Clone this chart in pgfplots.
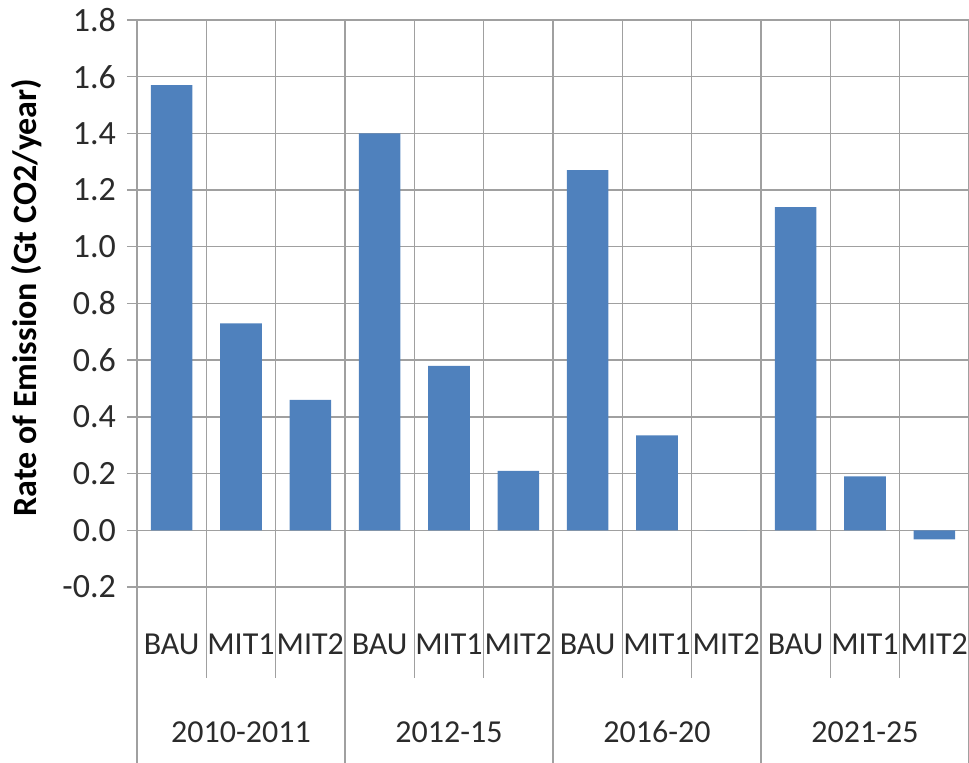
\documentclass[border=0pt]{standalone}
\usepackage{pgfplots}
\pgfplotsset{compat=1.18}
\usepackage{fontspec}
\setmainfont{Carlito}
\definecolor{barblue}{HTML}{4F81BD}
\definecolor{gridgray}{HTML}{A0A0A0}
\definecolor{txt}{HTML}{2B2B2B}
\begin{document}
\begin{tikzpicture}
\begin{axis}[
  name=ax,
  scale only axis, width=416pt, height=283.5pt,
  xmin=-0.5, xmax=11.5, ymin=-0.2, ymax=1.8,
  clip=false,
  font=\fontsize{16}{19}\selectfont,
  every tick label/.append style={txt},
  ytick={-0.2,0,0.2,0.4,0.6,0.8,1.0,1.2,1.4,1.6,1.8},
  ymajorgrids,
  grid style={gridgray, line width=0.7pt},
  axis line style={gridgray, line width=0.7pt},
  tick align=outside, ytick pos=left, major tick length=5pt,
  tick style={gridgray, line width=0.7pt},
  /pgf/number format/assume math mode=true,
  y tick label style={/pgf/number format/fixed, /pgf/number format/fixed zerofill, /pgf/number format/precision=1, /pgf/number format/assume math mode=true, font=\fontsize{17}{20}\selectfont, xshift=-2pt},
  xtick={0,1,2,3,4,5,6,7,8,9,10,11},
  xticklabels={BAU,MIT1,MIT2,BAU,MIT1,MIT2,BAU,MIT1,MIT2,BAU,MIT1,MIT2},
  xtick style={draw=none},
  xticklabel style={anchor=center, yshift=-23.5pt},
  extra x ticks={1,4,7,10},
  extra x tick labels={2010-2011,2012-15,2016-20,2021-25},
  extra x tick style={grid=none, xticklabel style={yshift=-44pt}},
  every axis y label/.style={at={(axis description cs:0,0.5)}, xshift=-55pt, yshift=3pt, rotate=90, anchor=center, font=\fontsize{17}{20}\selectfont\bfseries, text=black},
  ylabel={Rate of Emission (Gt CO2/year)},
]
\pgfplotsinvokeforeach{0.5,1.5,3.5,4.5,6.5,7.5,9.5,10.5}{
  \draw[gridgray, line width=0.7pt] (axis cs:#1,1.8) -- (axis cs:#1,-0.521);
}
\pgfplotsinvokeforeach{-0.5,2.5,5.5,8.5,11.5}{
  \draw[gridgray, line width=0.7pt] (axis cs:#1,1.8) -- (axis cs:#1,-0.822);
}
\addplot[ybar, bar width=0.6, fill=barblue, draw=none] coordinates {
  (0,1.57) (1,0.73) (2,0.46)
  (3,1.40) (4,0.58) (5,0.21)
  (6,1.27) (7,0.335) (8,0)
  (9,1.14) (10,0.19) (11,-0.032)
};
\end{axis}
\pgfresetboundingbox
\path ([shift={(-68.5pt,-88pt)}]ax.south west) rectangle ([shift={(0pt,10pt)}]ax.north east);
\end{tikzpicture}
\end{document}
